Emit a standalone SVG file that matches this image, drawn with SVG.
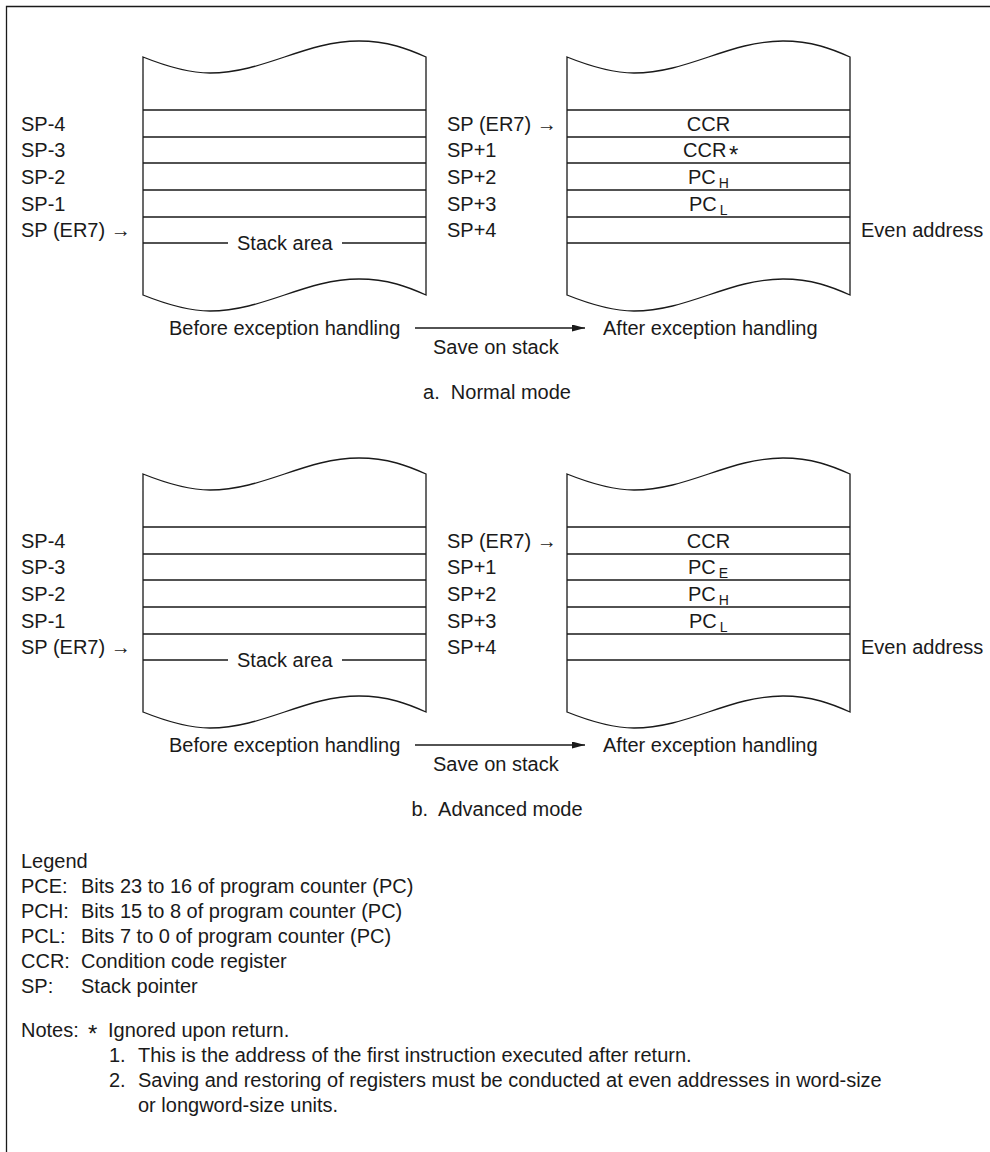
<svg xmlns="http://www.w3.org/2000/svg" width="990" height="1152" viewBox="0 0 990 1152">
<style>
.t{font-family:"Liberation Sans",Arial,Helvetica,sans-serif;font-size:20px;fill:#1a1a1a}
.m{text-anchor:middle}
.s{font-size:14px}
.ln{stroke:#1a1a1a;stroke-width:1.3;fill:none}
.box{stroke:#1a1a1a;stroke-width:1.3;fill:#fff}
</style>
<defs>
<marker id="ah" markerUnits="userSpaceOnUse" markerWidth="14" markerHeight="8" refX="13" refY="3.5" orient="auto">
<path d="M0,0 L13,3.5 L0,7 z" fill="#1a1a1a"/>
</marker>
<path id="stk" d="M143,57 C168,67 190,73 210,73 C264,73 305,41 359,41 C388,41 408,49 426,57 L426,295 C408,287 388,279 359,279 C305,279 264,311 210,311 C190,311 168,305 143,295 Z"/>
</defs>
<rect width="990" height="1152" fill="#fff"/>
<path class="ln" d="M6.5,1152 V6.5 H990"/>

<!-- a. Normal mode -->
<g id="before-a">
<use href="#stk" class="box"/>
<path class="ln" d="M143,110H426M143,137H426M143,163H426M143,190H426M143,217H426M143,243H228M342,243H426"/>
<text class="t" x="237" y="250">Stack area</text>
<text class="t" x="21" y="131">SP-4</text>
<text class="t" x="21" y="157">SP-3</text>
<text class="t" x="21" y="184">SP-2</text>
<text class="t" x="21" y="211">SP-1</text>
<text class="t" x="21" y="237">SP (ER7) →</text>
<text class="t" x="169" y="335">Before exception handling</text>
</g>
<g id="after-a">
<use href="#stk" class="box" x="424"/>
<path class="ln" d="M567,110H850M567,137H850M567,163H850M567,190H850M567,217H850M567,243H850"/>
<text class="t m" x="708.5" y="131">CCR</text>
<text class="t" x="683" y="157">CCR</text>
<text class="t" x="729" y="163" style="font-size:24px">*</text>
<text class="t" x="688" y="184">PC<tspan class="s" dx="3" dy="4">H</tspan></text>
<text class="t" x="689" y="211">PC<tspan class="s" dx="3" dy="4">L</tspan></text>
<text class="t" x="447" y="131">SP (ER7) →</text>
<text class="t" x="447" y="157">SP+1</text>
<text class="t" x="447" y="184">SP+2</text>
<text class="t" x="447" y="211">SP+3</text>
<text class="t" x="447" y="237">SP+4</text>
<text class="t" x="861" y="237">Even address</text>
<text class="t" x="603" y="335">After exception handling</text>
</g>
<g id="caption-a">
<text class="t m" x="497" y="399" xml:space="preserve">a.  Normal mode</text>
</g>

<!-- b. Advanced mode -->
<g id="before-b" transform="translate(0,417)">
<use href="#stk" class="box"/>
<path class="ln" d="M143,110H426M143,137H426M143,163H426M143,190H426M143,217H426M143,243H228M342,243H426"/>
<text class="t" x="237" y="250">Stack area</text>
<text class="t" x="21" y="131">SP-4</text>
<text class="t" x="21" y="157">SP-3</text>
<text class="t" x="21" y="184">SP-2</text>
<text class="t" x="21" y="211">SP-1</text>
<text class="t" x="21" y="237">SP (ER7) →</text>
<text class="t" x="169" y="335">Before exception handling</text>
</g>
<g id="after-b" transform="translate(0,417)">
<use href="#stk" class="box" x="424"/>
<path class="ln" d="M567,110H850M567,137H850M567,163H850M567,190H850M567,217H850M567,243H850"/>
<text class="t m" x="708.5" y="131">CCR</text>
<text class="t" x="688" y="157">PC<tspan class="s" dx="3" dy="4">E</tspan></text>
<text class="t" x="688" y="184">PC<tspan class="s" dx="3" dy="4">H</tspan></text>
<text class="t" x="689" y="211">PC<tspan class="s" dx="3" dy="4">L</tspan></text>
<text class="t" x="447" y="131">SP (ER7) →</text>
<text class="t" x="447" y="157">SP+1</text>
<text class="t" x="447" y="184">SP+2</text>
<text class="t" x="447" y="211">SP+3</text>
<text class="t" x="447" y="237">SP+4</text>
<text class="t" x="861" y="237">Even address</text>
<text class="t" x="603" y="335">After exception handling</text>
</g>
<g id="caption-b">
<text class="t m" x="497" y="816" xml:space="preserve">b.  Advanced mode</text>
</g>

<g id="connectors">
<line class="ln" x1="415" y1="328" x2="585" y2="328" marker-end="url(#ah)"/>
<text class="t" x="433" y="354">Save on stack</text>
<line class="ln" x1="415" y1="745" x2="585" y2="745" marker-end="url(#ah)"/>
<text class="t" x="433" y="771">Save on stack</text>
</g>

<g id="legend">
<text class="t" x="21" y="868">Legend</text>
<text class="t" x="21" y="893">PCE:</text><text class="t" x="81" y="893">Bits 23 to 16 of program counter (PC)</text>
<text class="t" x="21" y="918">PCH:</text><text class="t" x="81" y="918">Bits 15 to 8 of program counter (PC)</text>
<text class="t" x="21" y="943">PCL:</text><text class="t" x="81" y="943">Bits 7 to 0 of program counter (PC)</text>
<text class="t" x="21" y="968">CCR:</text><text class="t" x="81" y="968">Condition code register</text>
<text class="t" x="21" y="993">SP:</text><text class="t" x="81" y="993">Stack pointer</text>
</g>
<g id="notes">
<text class="t" x="21" y="1037">Notes:</text>
<text class="t" x="88" y="1042" style="font-size:24px">*</text>
<text class="t" x="108" y="1037">Ignored upon return.</text>
<text class="t" x="109" y="1062">1.</text><text class="t" x="138" y="1062">This is the address of the first instruction executed after return.</text>
<text class="t" x="109" y="1087">2.</text><text class="t" x="138" y="1087">Saving and restoring of registers must be conducted at even addresses in word-size</text>
<text class="t" x="138" y="1112">or longword-size units.</text>
</g>
</svg>
